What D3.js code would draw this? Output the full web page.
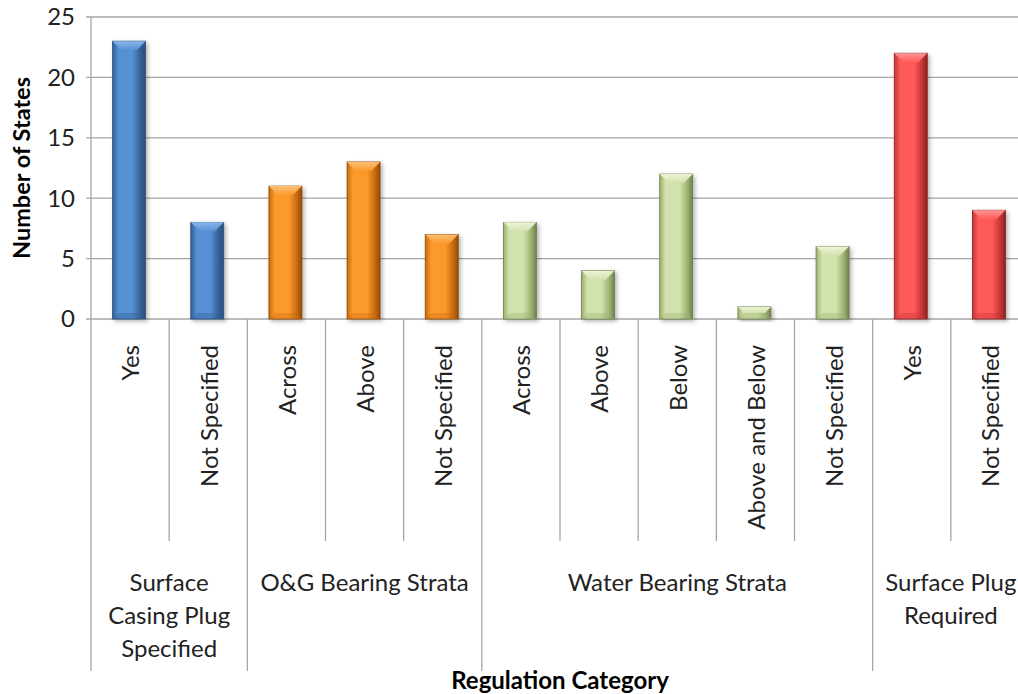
<!DOCTYPE html>
<html><head><meta charset="utf-8">
<script src="https://cdn.jsdelivr.net/npm/d3@7"></script>
<style>body{margin:0;background:#fff}svg{display:block}text{font-family:Lato,"Open Sans",sans-serif}</style>
</head><body><svg id="c" width="1018" height="694"></svg>
<script>
const categories = ["Yes","Not Specified","Across","Above","Not Specified","Across","Above","Below","Above and Below","Not Specified","Yes","Not Specified"];
const values = [23,8,11,13,7,8,4,12,1,6,22,9];
const groups = [
  {name:["Surface","Casing Plug","Specified"], start:0, end:1, color:"blue"},
  {name:["O&G Bearing Strata"], start:2, end:4, color:"orange"},
  {name:["Water Bearing Strata"], start:5, end:9, color:"green"},
  {name:["Surface Plug","Required"], start:10, end:11, color:"red"}
];
const yTicks = [0,5,10,15,20,25];
const palette = {
  blue:{edge:"#335f95",mid:"#5590d4",top:"#8bb9ec",line:"#2c4f7c"},
  orange:{edge:"#c86a0c",mid:"#fb9a2c",top:"#fdc27a",line:"#8f4a05"},
  green:{edge:"#9bb070",mid:"#d2e2ad",top:"#eef5d8",line:"#6e7e4c"},
  red:{edge:"#c43434",mid:"#ff5a5a",top:"#ff9a9a",line:"#8a2222"}
};

const svg = d3.select("#c");
const x0 = 91, x1 = 1029, yTop = 17, yBot = 319;
const x = d3.scaleBand().domain(d3.range(categories.length)).range([x0,x1]).padding(0);
const y = d3.scaleLinear().domain([0,25]).range([yBot,yTop]);
const colorOf = i => groups.find(g => i>=g.start && i<=g.end).color;

const defs = svg.append("defs");
Object.entries(palette).forEach(([k,p])=>{
  const g = defs.append("linearGradient").attr("id","g-"+k).attr("x1","0").attr("x2","1").attr("y1","0").attr("y2","0");
  g.append("stop").attr("offset","0").attr("stop-color",p.edge);
  g.append("stop").attr("offset","0.18").attr("stop-color",p.mid);
  g.append("stop").attr("offset","0.6").attr("stop-color",p.mid);
  g.append("stop").attr("offset","0.85").attr("stop-color",p.edge);
  g.append("stop").attr("offset","1").attr("stop-color",p.line);
  const t = defs.append("linearGradient").attr("id","t-"+k).attr("x1","0").attr("x2","0").attr("y1","0").attr("y2","1");
  t.append("stop").attr("offset","0").attr("stop-color",p.top);
  t.append("stop").attr("offset","1").attr("stop-color",p.mid);
});
const f = defs.append("filter").attr("id","sh").attr("x","-30%").attr("y","-10%").attr("width","160%").attr("height","130%");
f.append("feDropShadow").attr("dx",2).attr("dy",2).attr("stdDeviation",2).attr("flood-color","#000").attr("flood-opacity",0.3);

// gridlines
svg.append("g").selectAll("line").data(yTicks).join("line")
  .attr("x1",x0-5).attr("x2",1018).attr("y1",d=>y(d)).attr("y2",d=>y(d))
  .attr("stroke","#a6a6a6").attr("stroke-width",1.3);
// y axis line
svg.append("line").attr("x1",x0).attr("x2",x0).attr("y1",yTop).attr("y2",671).attr("stroke","#a6a6a6").attr("stroke-width",1.3);
// y tick labels
svg.append("g").selectAll("text").data(yTicks).join("text")
  .attr("x",75).attr("y",d=>y(d)).attr("dy","0.35em").attr("text-anchor","end")
  .attr("font-size",24).attr("fill","#222").text(d=>d);
// y title
svg.append("text").attr("transform",`translate(22,${(yTop+yBot)/2}) rotate(-90)`)
  .attr("text-anchor","middle").attr("dy","0.35em").attr("font-size",23.5).attr("font-weight","bold").attr("fill","#000").text("Number of States");

// category separators
const bw = x.bandwidth();
const seps = d3.range(1,categories.length);
const groupStarts = groups.map(g=>g.start);
svg.append("g").selectAll("line").data(seps).join("line")
  .attr("x1",i=>x(i)).attr("x2",i=>x(i)).attr("y1",yBot)
  .attr("y2",i=>groupStarts.includes(i)?671:541)
  .attr("stroke","#a6a6a6").attr("stroke-width",1.3);

// bars
const barW = 33;
const bars = svg.append("g").selectAll("g").data(values).join("g").attr("filter","url(#sh)");
bars.each(function(v,i){
  const g = d3.select(this);
  const c = colorOf(i);
  const bx = x(i)+bw/2-barW/2-1, by = y(v), bh = yBot-y(v);
  g.append("rect").attr("x",bx).attr("y",by).attr("width",barW).attr("height",bh)
    .attr("fill",`url(#g-${c})`).attr("stroke",palette[c].line).attr("stroke-width",0.8);
  const d = Math.min(9, bh/2);
  g.append("path").attr("d",`M${bx},${by}L${bx+barW},${by}L${bx+barW-d},${by+d}L${bx+d},${by+d}Z`)
    .attr("fill",`url(#t-${c})`).attr("opacity",0.95);
  const db = Math.min(6, bh/2);
  g.append("path").attr("d",`M${bx},${by+bh}L${bx+barW},${by+bh}L${bx+barW-db},${by+bh-db}L${bx+db},${by+bh-db}Z`)
    .attr("fill",palette[c].edge).attr("opacity",0.35);
});

// category labels
svg.append("g").selectAll("text").data(categories).join("text")
  .attr("transform",(d,i)=>`translate(${x(i)+bw/2+1},345) rotate(-90)`)
  .attr("text-anchor","end").attr("dy","0.35em").attr("font-size",24).attr("fill","#222").text(d=>d);

// group labels
const gl = svg.append("g").selectAll("text").data(groups).join("text")
  .attr("text-anchor","middle").attr("font-size",24).attr("fill","#222")
  .attr("x",g=>(x(g.start)+x(g.end)+bw)/2).attr("y",583);
gl.selectAll("tspan").data(g=>g.name).join("tspan")
  .attr("x",function(){return d3.select(this.parentNode).attr("x");})
  .attr("dy",(d,i)=>i===0?"0.35em":"33").text(d=>d);

// x title
svg.append("text").attr("x",(x0+x1)/2).attr("y",681).attr("dy","0.35em").attr("text-anchor","middle")
  .attr("font-size",24).attr("font-weight","bold").attr("fill","#000").text("Regulation Category");
</script></body></html>
